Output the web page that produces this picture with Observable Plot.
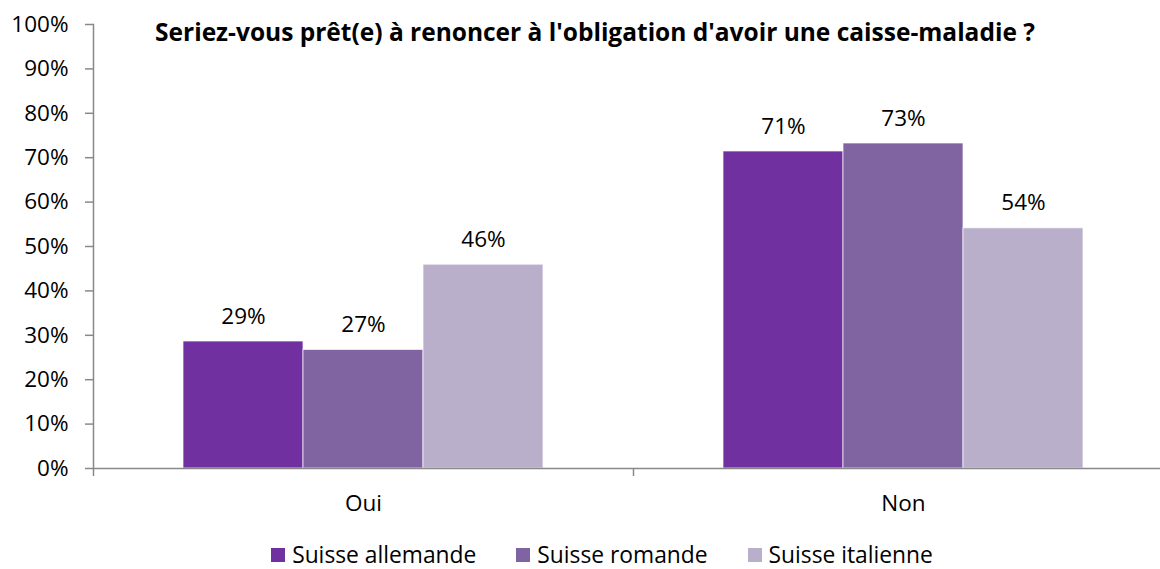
<!DOCTYPE html>
<html>
<head>
<meta charset="utf-8">
<script src="https://cdn.jsdelivr.net/npm/d3@7"></script>
<script src="https://cdn.jsdelivr.net/npm/@observablehq/plot@0.6"></script>
<style>
  html, body { margin: 0; padding: 0; background: #fff; }
  #wrap { position: relative; width: 1160px; height: 569px; font-family: "Open Sans", sans-serif; color: #000; }
  #title { position: absolute; top: 15px; left: 0; width: 1190px; text-align: center; font-weight: bold; font-size: 24.5px; }
  #legend { display: flex; justify-content: center; gap: 40px; padding-left: 44px; padding-top: 10px; height: 29px; align-items: center; font-size: 22.8px; }
  #legend .item { display: flex; align-items: center; gap: 7px; }
  #legend .sw { width: 14px; height: 14px; display: inline-block; }
</style>
</head>
<body>
<div id="wrap">
  <div id="chart"></div>
  <div id="legend"></div>
  <div id="title"></div>
</div>
<script>
const title = "Seriez-vous prêt(e) à renoncer à l'obligation d'avoir une caisse-maladie ?";
const categories = ["Oui", "Non"];
const series = ["Suisse allemande", "Suisse romande", "Suisse italienne"];
const valuesOui = [28.6, 26.7, 45.9];
const valuesNon = [71.4, 73.2, 54.1];
const colors = ["#7030A0", "#8064A2", "#B9AFCB"];
const yTicks = [0, 10, 20, 30, 40, 50, 60, 70, 80, 90, 100];

const valuesByCategory = [valuesOui, valuesNon];
const data = categories.flatMap((c, i) => series.map((s, j) => ({category: c, series: s, value: valuesByCategory[i][j]})));

const W = 1160, H = 530, mL = 93, mT = 24, mB = 62;
const fxRange = [mL, mL + 1080];
const band = (fxRange[1] - fxRange[0]) / categories.length;
const axisColor = "#898989";

const chart = Plot.plot({
  width: W, height: H,
  marginLeft: mL, marginTop: mT, marginBottom: mB, marginRight: 0,
  style: {fontFamily: "Open Sans", fontSize: "22.5px", color: "#000", background: "transparent"},
  fx: {domain: categories, range: fxRange, padding: 0, label: null},
  x: {domain: series, paddingInner: 0, paddingOuter: 0.75, axis: null},
  y: {domain: [0, 100], label: null},
  color: {domain: series, range: colors},
  marks: [
    Plot.barY(data, {fx: "category", x: "series", y: "value", fill: "series", stroke: "#fff", strokeOpacity: 0.7, strokeWidth: 1}),
    Plot.text(data, {fx: "category", x: "series", y: "value", text: d => Math.round(d.value) + "%", dy: -25, lineAnchor: "middle", fill: "#000"}),
    Plot.ruleY([0], {stroke: axisColor, strokeWidth: 1.5}),
    Plot.frame({anchor: "left", facetAnchor: "left", stroke: axisColor, strokeWidth: 1.5}),
    Plot.axisY({ticks: yTicks, tickFormat: d => d + "%", tickSize: 8, tickPadding: 17, stroke: axisColor, strokeWidth: 1.5, fill: "#000", label: null}),
    Plot.axisFx({anchor: "bottom", tickSize: 8, tickFormat: () => "", dx: -band / 2, stroke: axisColor, strokeWidth: 1.5, label: null}),
    Plot.axisFx({anchor: "bottom", tickSize: 0, tickPadding: 27, fill: "#000", label: null})
  ]
});
document.getElementById("chart").appendChild(chart);
document.getElementById("title").textContent = title;

const legend = document.getElementById("legend");
series.forEach((s, i) => {
  const item = document.createElement("div");
  item.className = "item";
  const sw = document.createElement("span");
  sw.className = "sw";
  sw.style.background = colors[i];
  const t = document.createElement("span");
  t.textContent = s;
  item.appendChild(sw);
  item.appendChild(t);
  legend.appendChild(item);
});
</script>
</body>
</html>
